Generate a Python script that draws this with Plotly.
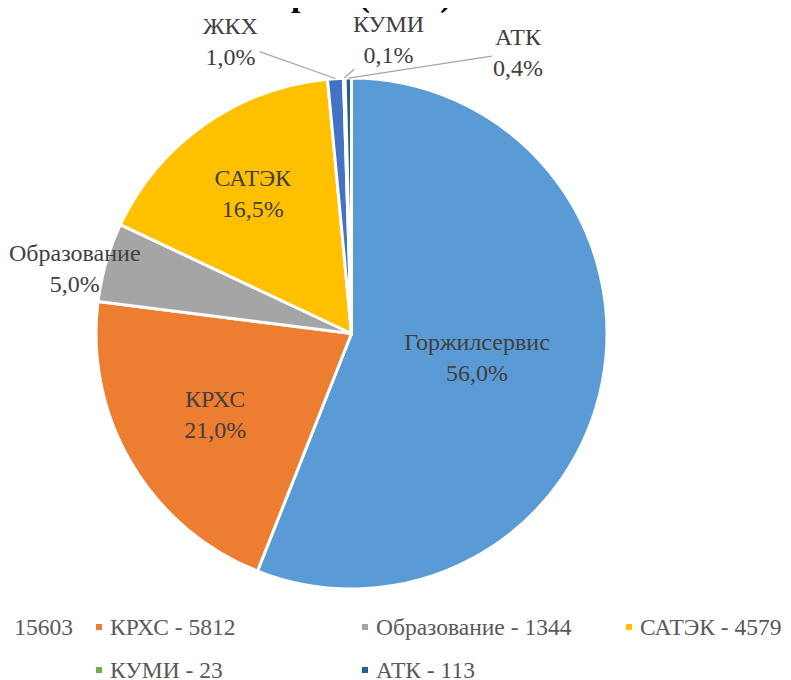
import math
import plotly.graph_objects as go

# ---- data ----
labels = ["Горжилсервис", "КРХС", "Образование", "САТЭК", "ЖКХ", "КУМИ", "АТК"]
shares = [56.0, 21.0, 5.0, 16.5, 1.0, 0.1, 0.4]          # % shown on the chart
counts = [15603, 5812, 1344, 4579, 279, 23, 113]           # values shown in the legend
colors = ["#5B9BD5", "#ED7D31", "#A5A5A5", "#FFC000", "#4472C4", "#70AD47", "#255E91"]
title_text = "Структура задолженности<br>по секторам (млн.)"

# ---- layout constants (page pixels; the page body has an 8px margin) ----
OFF = 8
W, H = 783, 672
CX, CY, R = 351.5, 333.5, 255.5
FONT = "Liberation Serif, Times New Roman, serif"
FS = 24
LEG_FS = 23.5
LBL_COLOR = "#404040"
LEG_COLOR = "#595959"
inside = {0, 1, 3}
# offsets of outside labels from the rim point at the slice middle (px)
label_offsets = {2: (-31, 6, False), 4: (-105, -37, True), 5: (44, -39, True), 6: (170, -26, True)}
leg_cols = [-162, 96, 362, 626]
leg_rows = [627, 670]


def px(x):
    return (x - OFF) / W


def py(y):
    return 1 - (y - OFF) / H


def pct(v):
    return f"{v:.1f}".replace(".", ",") + "%"


pct_text = [pct(v) for v in shares]

fig = go.Figure()
fig.add_trace(go.Pie(
    labels=labels,
    values=shares,
    text=pct_text,
    texttemplate="%{label}<br>%{text}",
    textposition=["inside" if i in inside else "none" for i in range(len(labels))],
    insidetextorientation="horizontal",
    insidetextfont=dict(family=FONT, size=FS, color=LBL_COLOR),
    marker=dict(colors=colors, line=dict(color="white", width=3)),
    direction="clockwise",
    rotation=0,
    sort=False,
    showlegend=False,
    hoverinfo="label+percent",
    domain=dict(x=[px(CX - R), px(CX + R)], y=[py(CY + R), py(CY - R)]),
))

annotations = []
total = sum(shares)
cum = 0.0
for i, v in enumerate(shares):
    mid = (cum + v / 2) / total * 2 * math.pi
    cum += v
    if i not in label_offsets:
        continue
    X = CX + R * math.sin(mid)
    Y = CY - R * math.cos(mid)
    dx, dy, arrow = label_offsets[i]
    txt = f"{labels[i]}<br>{pct_text[i]}"
    font = dict(family=FONT, size=FS, color=LBL_COLOR)
    if arrow:
        annotations.append(dict(x=px(X), y=py(Y), xref="paper", yref="paper", text=txt,
                                showarrow=True, arrowhead=0, arrowwidth=1.3, arrowcolor="#A6A6A6",
                                ax=dx, ay=dy, standoff=0, font=font, align="center"))
    else:
        annotations.append(dict(x=px(X), y=py(Y), xref="paper", yref="paper", text=txt,
                                showarrow=False, xanchor="center", yanchor="middle",
                                xshift=dx, yshift=-dy, font=font, align="center"))

# legend (text + square markers, laid out in Excel-like columns)
shapes = []
for i, (lab, cnt, col) in enumerate(zip(labels, counts, colors)):
    r, c = divmod(i, 4)
    mx, my = leg_cols[c], leg_rows[r]
    shapes.append(dict(type="rect", xref="paper", yref="paper",
                       x0=px(mx), x1=px(mx + 6), y0=py(my + 3), y1=py(my - 3),
                       fillcolor=col, line=dict(width=0)))
    annotations.append(dict(x=px(mx + 12), y=py(my), xref="paper", yref="paper",
                            text=f"{lab} - {cnt}", showarrow=False, xanchor="left", yanchor="middle",
                            font=dict(family=FONT, size=LEG_FS, color=LEG_COLOR)))

TITLE_FS = 34
fig.update_layout(
    width=W, height=H,
    margin=dict(l=0, r=0, t=0, b=0, autoexpand=False),
    paper_bgcolor="white", plot_bgcolor="white",
    separators=", ",
    title=dict(text=title_text, x=(307 - OFF) / W, xref="container", xanchor="center",
               y=1, yref="container", yanchor="bottom",
               pad=dict(b=1.3 * TITLE_FS + 2),
               font=dict(family=FONT, size=TITLE_FS, color="black", weight="bold")),
    annotations=annotations,
    shapes=shapes,
)

fig.write_html("out.html")
